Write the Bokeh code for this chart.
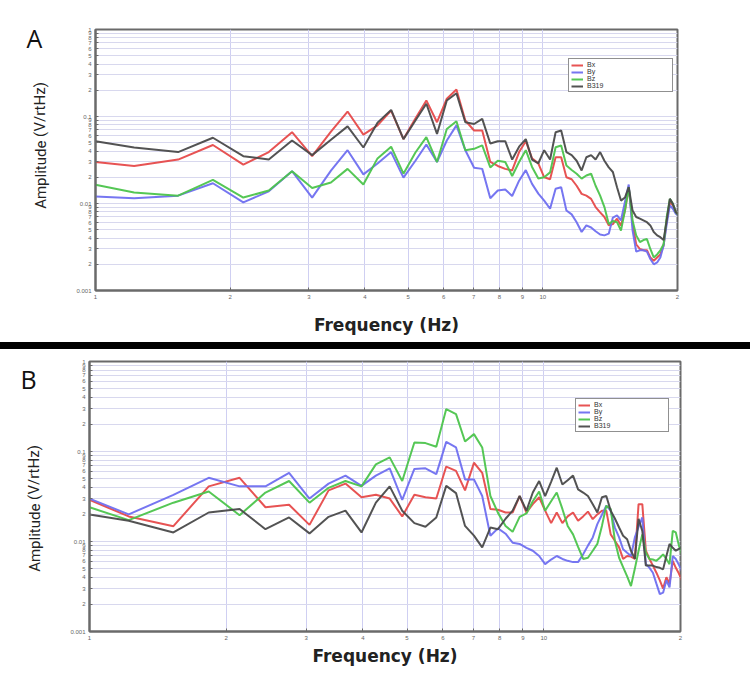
from bokeh.plotting import figure
from bokeh.models import FixedTicker, CustomJSTickFormatter, Legend, LegendItem, Div
from bokeh.layouts import column, row
from bokeh.core.properties import value
from bokeh.embed import file_html
from bokeh.resources import INLINE

# Frequency bins (Hz), shared by every series
freq = [1.00, 1.22, 1.53, 1.83, 2.14, 2.44, 2.75, 3.05, 3.36, 3.66, 3.97, 4.27,
        4.58, 4.88, 5.19, 5.49, 5.80, 6.10, 6.41, 6.71, 7.02, 7.32, 7.63, 7.93,
        8.24, 8.54, 8.85, 9.16, 9.46, 9.77, 10.07, 10.38, 10.68, 10.99, 11.29,
        11.60, 11.90, 12.21, 12.51, 12.82, 13.12, 13.43, 13.73, 14.04, 14.34,
        14.65, 14.95, 15.26, 15.56, 15.87, 16.17, 16.48, 16.78, 17.09, 17.39,
        17.70, 18.01, 18.31, 18.62, 18.92, 19.23, 19.53, 19.84, 20.14]

# Panel A
A_bx = [0.030, 0.027, 0.032, 0.047, 0.028, 0.039, 0.066, 0.035, 0.067, 0.114, 0.062, 0.079,
        0.117, 0.055, 0.095, 0.153, 0.086, 0.160, 0.204, 0.090, 0.069, 0.069, 0.030, 0.027,
        0.025, 0.024, 0.039, 0.052, 0.033, 0.029, 0.020, 0.019, 0.034, 0.034, 0.020,
        0.019, 0.016, 0.0129, 0.0123, 0.0113, 0.0091, 0.0079, 0.0070, 0.0056, 0.0058,
        0.0067, 0.0056, 0.0083, 0.0154, 0.0058, 0.0034, 0.0030, 0.0029, 0.0029, 0.0024,
        0.0022, 0.0024, 0.0026, 0.0033, 0.0064, 0.0104, 0.0095, 0.0079, 0.0073]
A_by = [0.0120, 0.0115, 0.0123, 0.0171, 0.0103, 0.0138, 0.0235, 0.0117, 0.0239, 0.041, 0.0216, 0.0288,
        0.039, 0.0198, 0.031, 0.0477, 0.030, 0.053, 0.079, 0.041, 0.0258, 0.025, 0.0115, 0.0141,
        0.0145, 0.0122, 0.0183, 0.0242, 0.0168, 0.0130, 0.0108, 0.0087, 0.0148, 0.0154, 0.0083,
        0.0075, 0.0061, 0.0047, 0.0056, 0.0053, 0.0048, 0.0044, 0.0043, 0.0045, 0.0069,
        0.0073, 0.0064, 0.0104, 0.0165, 0.0049, 0.0028, 0.0029, 0.0029, 0.0028, 0.0023,
        0.0020, 0.0021, 0.0024, 0.0033, 0.0058, 0.0095, 0.0087, 0.0076, 0.0073]
A_bz = [0.0164, 0.0134, 0.0123, 0.0187, 0.0117, 0.0141, 0.0235, 0.0151, 0.0174, 0.025, 0.0165, 0.033,
        0.045, 0.022, 0.0386, 0.058, 0.030, 0.072, 0.088, 0.041, 0.0425, 0.0465, 0.026, 0.031,
        0.030, 0.0207, 0.030, 0.041, 0.0263, 0.0194, 0.020, 0.0228, 0.0444, 0.0465, 0.0273,
        0.0243, 0.022, 0.0193, 0.021, 0.022, 0.016, 0.0123, 0.0091, 0.0058, 0.0063,
        0.0061, 0.0049, 0.0083, 0.0154, 0.0064, 0.0043, 0.0036, 0.0038, 0.0039, 0.0030,
        0.0024, 0.0026, 0.0029, 0.0034, 0.0070, 0.0113, 0.0099, 0.0079, 0.0073]
A_b319 = [0.052, 0.044, 0.039, 0.057, 0.035, 0.032, 0.053, 0.036, 0.054, 0.077, 0.044, 0.085,
          0.119, 0.055, 0.090, 0.140, 0.063, 0.153, 0.185, 0.086, 0.082, 0.094, 0.049, 0.052,
          0.052, 0.032, 0.045, 0.055, 0.032, 0.029, 0.041, 0.032, 0.066, 0.069, 0.039,
          0.036, 0.031, 0.024, 0.034, 0.036, 0.032, 0.039, 0.031, 0.026, 0.023,
          0.0154, 0.0108, 0.0117, 0.0154, 0.0083, 0.0070, 0.0067, 0.0064, 0.0061, 0.0056,
          0.0047, 0.0043, 0.0041, 0.0038, 0.0064, 0.0113, 0.0099, 0.0079, 0.0073]

# Panel B
B_bx = [0.029, 0.019, 0.0148, 0.041, 0.051, 0.024, 0.0256, 0.0153, 0.037, 0.044, 0.031, 0.033,
        0.030, 0.019, 0.033, 0.031, 0.030, 0.068, 0.061, 0.037, 0.075, 0.058, 0.023, 0.0225,
        0.021, 0.021, 0.032, 0.021, 0.026, 0.031, 0.022, 0.016, 0.021, 0.016, 0.019,
        0.021, 0.017, 0.019, 0.0215, 0.0177, 0.020, 0.022, 0.022, 0.012, 0.0102,
        0.0086, 0.0064, 0.0069, 0.0068, 0.0064, 0.026, 0.026, 0.0079, 0.0064, 0.0054,
        0.0045, 0.0037, 0.0030, 0.0040, 0.0034, 0.0061, 0.0051, 0.0044, 0.0037]
B_by = [0.030, 0.020, 0.033, 0.051, 0.041, 0.041, 0.058, 0.030, 0.044, 0.054, 0.0415, 0.054,
        0.065, 0.029, 0.064, 0.065, 0.056, 0.128, 0.111, 0.049, 0.049, 0.032, 0.0116, 0.014,
        0.0122, 0.0097, 0.0094, 0.0085, 0.0079, 0.0069, 0.0056, 0.0063, 0.0069, 0.0064, 0.0061,
        0.0059, 0.0059, 0.0072, 0.0090, 0.0111, 0.0156, 0.0198, 0.025, 0.022, 0.0143,
        0.0111, 0.0082, 0.0075, 0.0069, 0.0111, 0.0145, 0.0185, 0.0056, 0.0051, 0.0045,
        0.0034, 0.0026, 0.0027, 0.0037, 0.0031, 0.0069, 0.0064, 0.0055, 0.0047]
B_bz = [0.024, 0.0173, 0.027, 0.036, 0.0196, 0.035, 0.047, 0.027, 0.0395, 0.047, 0.041, 0.072,
        0.086, 0.047, 0.126, 0.124, 0.113, 0.296, 0.26, 0.129, 0.156, 0.111, 0.032, 0.0208,
        0.0149, 0.0128, 0.0188, 0.0205, 0.028, 0.036, 0.022, 0.028, 0.035, 0.023, 0.0149,
        0.012, 0.0087, 0.0064, 0.0066, 0.0079, 0.0094, 0.0149, 0.025, 0.023, 0.0102,
        0.0066, 0.0052, 0.0041, 0.0032, 0.0050, 0.0079, 0.012, 0.0075, 0.0064, 0.0063,
        0.0061, 0.0066, 0.0072, 0.0064, 0.0056, 0.0131, 0.0126, 0.0090, 0.0072]
B_b319 = [0.020, 0.017, 0.0126, 0.021, 0.023, 0.0137, 0.0185, 0.0123, 0.0188, 0.022, 0.0126, 0.027,
          0.041, 0.022, 0.016, 0.0146, 0.0185, 0.0415, 0.0345, 0.0149, 0.0116, 0.0086, 0.0143, 0.0137,
          0.0179, 0.022, 0.032, 0.022, 0.035, 0.047, 0.032, 0.046, 0.066, 0.043, 0.048,
          0.054, 0.038, 0.035, 0.032, 0.026, 0.021, 0.031, 0.032, 0.022, 0.018,
          0.0143, 0.0116, 0.0106, 0.0079, 0.0064, 0.0179, 0.0131, 0.0054, 0.0054, 0.0054,
          0.0052, 0.0051, 0.0049, 0.0069, 0.0094, 0.0085, 0.0079, 0.0083, 0.0086]

series_names = ["Bx", "By", "Bz", "B319"]
series_colors = ["#e64a4a", "#6f6ff0", "#4cc44c", "#4a4a4a"]

x_ticks = [1, 2, 3, 4, 5, 6, 7, 8, 9, 10, 20]
y_ticks = [0.001, 0.002, 0.003, 0.004, 0.005, 0.006, 0.007, 0.008, 0.009,
           0.01, 0.02, 0.03, 0.04, 0.05, 0.06, 0.07, 0.08, 0.09,
           0.1, 0.2, 0.3, 0.4, 0.5, 0.6, 0.7, 0.8, 0.9, 1]

FMT = """
const e = Math.log10(tick);
const r = Math.round(e);
if (Math.abs(e - r) < 1e-6) { return String(Number(tick.toPrecision(3))); }
const m = Math.round(tick / Math.pow(10, Math.floor(e + 1e-9)));
return String(m);
"""

AXIS_COL = "#6a6a6a"
LETTER_W = 60
PAGE_W = 750


def side_panel(height, top, bottom, letter, letter_xy, ylab_xy):
    # blank strip beside the plot; its frame lines up with the plot frame, and its
    # data units are pixels measured upward from the strip's bottom edge
    s = figure(width=LETTER_W, height=height, x_range=(0, LETTER_W),
               y_range=(bottom, height - top),
               x_axis_location=None, y_axis_location=None, output_backend="svg",
               toolbar_location=None, title=None, min_border=0, min_border_left=0,
               min_border_right=0, min_border_top=top, min_border_bottom=bottom)
    s.outline_line_color = None
    s.background_fill_color = "white"
    s.border_fill_color = "white"
    s.grid.visible = False
    s.text(x=[letter_xy[0]], y=[letter_xy[1]], text=[letter], text_font=value("Open Sans"),
           text_font_size=value("25px"), text_color="#111111", text_align="left",
           text_baseline="middle")
    s.text(x=[ylab_xy[0]], y=[ylab_xy[1]], text=["Amplitude (V/rtHz)"], angle=1.5708,
           text_font=value("Roboto"),
           text_font_size=value("15px"), text_color="#222222", text_align="center",
           text_baseline="middle")
    return s


def main_panel(data, height, borders, legend_xy, xlab_standoff, legend_label_width):
    bl, br, bt, bb = borders
    p = figure(width=PAGE_W - LETTER_W, height=height, x_axis_type="log", y_axis_type="log",
               x_range=(1, 20), y_range=(0.001, 1), output_backend="svg",
               toolbar_location=None, title=None, min_border_left=bl, min_border_right=br,
               min_border_top=bt, min_border_bottom=bb)
    p.background_fill_color = "white"
    p.border_fill_color = "white"
    p.outline_line_color = AXIS_COL
    p.outline_line_width = 2

    xt = FixedTicker(ticks=x_ticks)
    yt = FixedTicker(ticks=y_ticks)
    p.xaxis.ticker = xt
    p.yaxis.ticker = yt
    p.xgrid.ticker = xt
    p.ygrid.ticker = yt
    p.xaxis.formatter = CustomJSTickFormatter(code=FMT)
    p.yaxis.formatter = CustomJSTickFormatter(code=FMT)
    for ax in (p.xaxis, p.yaxis):
        ax.axis_line_color = AXIS_COL
        ax.axis_line_width = 2
        ax.major_tick_in = 3
        ax.major_tick_out = 0
        ax.major_tick_line_color = AXIS_COL
        ax.minor_tick_line_color = None
        ax.major_label_text_font_size = "6px"
        ax.major_label_text_color = "#666666"
        ax.major_label_text_font = "Liberation Sans"
        ax.major_label_standoff = 4
    p.xaxis.axis_label = "Frequency (Hz)"
    p.xaxis.axis_label_text_font = "DejaVu Sans"
    p.xaxis.axis_label_text_font_style = "bold"
    p.xaxis.axis_label_text_font_size = "17px"
    p.xaxis.axis_label_text_color = "#222222"
    p.xaxis.axis_label_standoff = xlab_standoff

    p.xgrid.grid_line_color = "#cfcff2"
    p.ygrid.grid_line_color = "#d8d8ee"
    p.grid.grid_line_width = 1

    items = []
    for name, col, vals in zip(series_names, series_colors, data):
        r = p.line(freq, vals, line_color=col, line_width=2, line_alpha=0.95)
        items.append(LegendItem(label=name, renderers=[r]))

    legend = Legend(items=items, location=legend_xy, label_text_font_size="7px",
                    label_text_font="Liberation Sans", label_text_color="#333333",
                    label_height=7, glyph_height=4, glyph_width=12, label_standoff=4,
                    label_width=legend_label_width, spacing=0, padding=2, margin=0,
                    border_line_color="#222222", border_line_width=1,
                    background_fill_color="white", background_fill_alpha=1)
    p.add_layout(legend)
    return p


# Panel A: page rows 0..342, frame x 95..677, y 29..290
HA = 342
TA, BA = 29, HA - 290
sideA = side_panel(HA, TA, BA, "A", (26, HA - 37), (40, HA - 145))
pA = main_panel([A_bx, A_by, A_bz, A_b319], HA, (95 - LETTER_W, PAGE_W - 677, TA, BA),
                (473, 198), 13, 83)

sep = Div(text="", width=PAGE_W, height=7, margin=0,
          styles={"background-color": "black"})

# Panel B: page rows 349..688, frame x 89..680, y 361..631
HB = 339
TB, BB = 12, 688 - 631
sideB = side_panel(HB, TB, BB, "B", (20, HB - (378 - 349)), (34, HB - (508 - 349)))
pB = main_panel([B_bx, B_by, B_bz, B_b319], HB, (89 - LETTER_W, PAGE_W - 680, TB, BB),
                (486, 199), 3, 72)

layout = column(row(sideA, pA, spacing=0), sep, row(sideB, pB, spacing=0), spacing=0)
open("out.html", "w").write(file_html(layout, INLINE))
